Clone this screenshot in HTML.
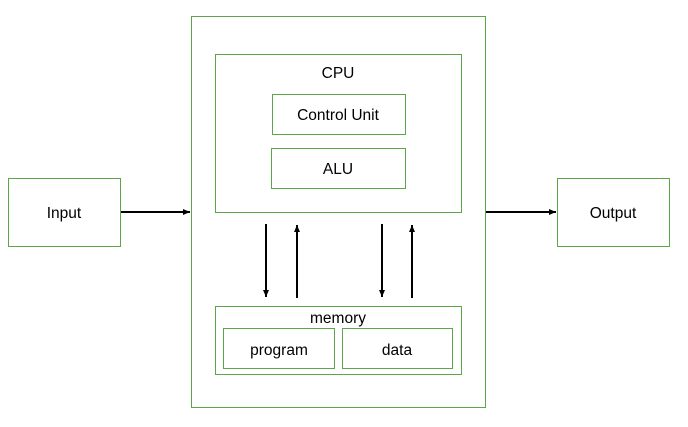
<!DOCTYPE html>
<html><head><style>body{margin:0;background:#fff}</style></head><body>
<svg width="688" height="422" viewBox="0 0 688 422" xmlns="http://www.w3.org/2000/svg" font-family="Liberation Sans, sans-serif" font-size="15.5" text-anchor="middle">
<defs><marker id="a" markerWidth="8" markerHeight="8" refX="7" refY="4" orient="auto" markerUnits="userSpaceOnUse"><path d="M0,1 L7,4 L0,7 z" fill="#000"/></marker></defs>
<g fill="none" stroke="#5ca548" stroke-width="1">
<rect x="191.5" y="16.5" width="294" height="391"/>
<rect x="215.5" y="54.5" width="246" height="158"/>
<rect x="272.5" y="94.5" width="133" height="40"/>
<rect x="271.5" y="148.5" width="134" height="40"/>
<rect x="215.5" y="306.5" width="246" height="68"/>
<rect x="223.5" y="328.5" width="111" height="40"/>
<rect x="342.5" y="328.5" width="110" height="40"/>
<rect x="8.5" y="178.5" width="112" height="68"/>
<rect x="557.5" y="178.5" width="112" height="68"/>
</g>
<g stroke="#000" stroke-width="2" marker-end="url(#a)">
<line x1="121" y1="212" x2="190" y2="212"/>
<line x1="486" y1="212" x2="556" y2="212"/>
<line x1="266" y1="224" x2="266" y2="297"/>
<line x1="297" y1="298" x2="297" y2="225"/>
<line x1="382" y1="224" x2="382" y2="297"/>
<line x1="412" y1="298" x2="412" y2="225"/>
</g>
<g fill="#000">
<text x="338" y="78">CPU</text>
<text x="338" y="120">Control Unit</text>
<text x="338" y="174">ALU</text>
<text x="338" y="323">memory</text>
<text x="279" y="355">program</text>
<text x="397" y="355">data</text>
<text x="64" y="218">Input</text>
<text x="613" y="218">Output</text>
</g>
</svg>
</body></html>
